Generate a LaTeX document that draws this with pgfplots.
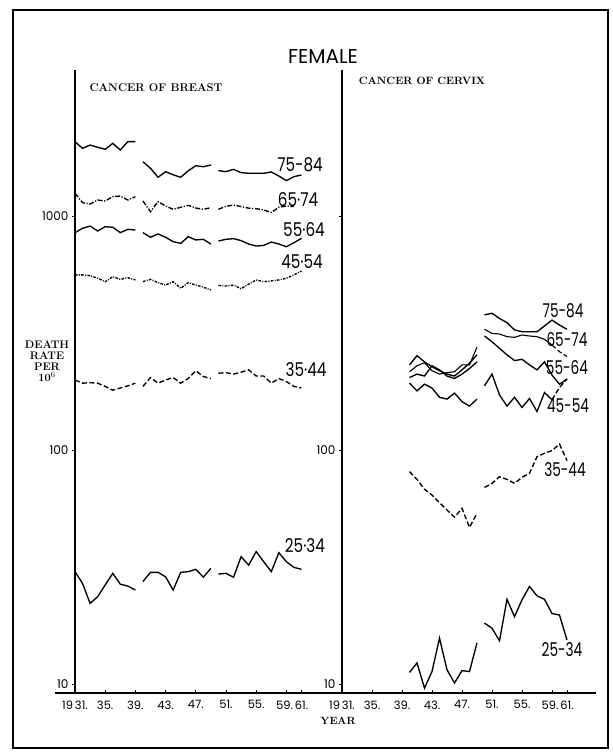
\documentclass[border=0pt]{standalone}
\usepackage{fontspec}
\usepackage{graphicx}
\usepackage{pgfplots}
\pgfplotsset{compat=1.18}
\newfontfamily\pop{Poppins}
\newcommand\agel[1]{\scalebox{0.8}[1]{\pop\fontsize{19}{19}\selectfont #1}}
\newcommand\ager[1]{\scalebox{0.72}[1]{\pop\fontsize{19}{19}\selectfont #1}}
\tikzset{
  sl/.style={solid},
  dd/.style={dash pattern=on 5pt off 1.6pt on 1.2pt off 1.6pt},
  dt/.style={dash pattern=on 2.6pt off 1.3pt on 1pt off 1.3pt},
  ds/.style={dash pattern=on 5pt off 2.5pt},
}
\pgfplotsset{
  myax/.style={
    scale only axis, anchor=south west,
    height=623pt, ymin=9.15, ymax=4207,
    xmin=1931,
    axis x line*=bottom, axis y line*=left,
    axis line style={-, line width=1.3pt},
    x axis line style={draw=none},
    xtick={1931,1935,1939,1943,1947,1951,1955,1959,1961},
    xticklabels={19\,31.,35.,39.,43.,47.,51.,55.,59.\hphantom{1},61.},
    ytick={10,100,1000},
    minor tick length=0pt,
    major tick length=3pt,
    xtick align=inside, ytick align=outside,
    tick style={black, line width=0.8pt},
    xticklabel style={font=\pop\fontsize{11.5}{11.5}\selectfont, yshift=-4pt, inner xsep=0pt},
    yticklabel style={font=\pop\fontsize{12}{12}\selectfont},
    /pgf/number format/assume math mode=true,
    every axis plot/.append style={black, line width=1.35pt, mark=none},
    clip=false,
  },
}
\begin{document}
\begin{tikzpicture}
\useasboundingbox (0pt,0pt) rectangle (613pt,753pt);
\draw[line width=1.4pt] (13pt,5pt) rectangle (608pt,743pt);
\node[font=\pop\fontsize{20}{20}\selectfont] at (323pt,696pt) {FEMALE};
\node[font=\fontsize{11.2}{12}\selectfont\bfseries] at (156pt,665pt) {CANCER OF BREAST};
\node[font=\fontsize{10.6}{12}\selectfont\bfseries] at (422pt,672pt) {CANCER OF CERVIX};
\node[font=\fontsize{11}{11}\selectfont\bfseries, align=center] at (47pt,392pt) {DEATH\\RATE\\PER\\10$^{6}$};
\node[font=\fontsize{10.5}{10.5}\selectfont\bfseries] at (338pt,32pt) {YEAR};

% ---------------- BREAST ----------------
\begin{axis}[ymode=log, myax, at={(75pt,60pt)}, width=264.25pt, xmax=1966, yticklabels={10,100,1000}]
% 75-84
\addplot[sl] coordinates {(1931,2078) (1932,1946) (1933,2010) (1934,1966) (1935,1928) (1936,2044) (1937,1915) (1938,2078) (1939,2078)};
\addplot[sl] coordinates {(1940,1706) (1941,1599) (1942,1464) (1943,1546) (1944,1500) (1945,1464) (1946,1560) (1947,1640) (1948,1624) (1949,1652)};
\addplot[sl] coordinates {(1950,1562) (1951,1547) (1952,1582) (1953,1532) (1954,1522) (1955,1522) (1956,1522) (1957,1542) (1958,1482) (1959,1416) (1960,1473) (1961,1497)};
% 65-74
\addplot[dd] coordinates {(1931,1250) (1932,1140) (1933,1125) (1934,1170) (1935,1159) (1936,1209) (1937,1217) (1938,1170) (1939,1209)};
\addplot[dd] coordinates {(1940,1159) (1941,1043) (1942,1152) (1943,1103) (1944,1068) (1945,1089) (1946,1111) (1947,1082) (1948,1068) (1949,1085)};
\addplot[dd] coordinates {(1950,1068) (1951,1100) (1952,1114) (1953,1097) (1954,1080) (1955,1075) (1956,1061) (1957,1035) (1958,1090) (1959,1103) (1960,1097)};
% 55-64
\addplot[sl] coordinates {(1931,849) (1932,886) (1933,906) (1934,863) (1935,900) (1936,895) (1937,849) (1938,877) (1939,871)};
\addplot[sl] coordinates {(1940,849) (1941,811) (1942,838) (1943,811) (1944,777) (1945,764) (1946,816) (1947,790) (1948,795) (1949,759)};
\addplot[sl] coordinates {(1950,782) (1951,795) (1952,800) (1953,785) (1954,759) (1955,744) (1956,749) (1957,774) (1958,759) (1959,739) (1960,769) (1961,803)};
% 45-54
\addplot[dt] coordinates {(1931,560) (1932,560) (1933,556) (1934,542) (1935,524) (1936,550) (1937,536) (1938,545) (1939,533)};
\addplot[dt] coordinates {(1940,524) (1941,536) (1942,519) (1943,507) (1944,524) (1945,491) (1946,519) (1947,507) (1948,496) (1949,483)};
\addplot[dt] coordinates {(1950,505) (1951,502) (1952,507) (1953,489) (1954,511) (1955,533) (1956,524) (1957,528) (1958,533) (1959,542) (1960,560) (1961,582)};
% 35-44
\addplot[ds] coordinates {(1931,199) (1932,193) (1933,194) (1934,193) (1935,187) (1936,180) (1937,184) (1938,188) (1939,193)};
\addplot[ds] coordinates {(1940,187) (1941,204) (1942,193) (1943,199) (1944,204) (1945,193) (1946,202) (1947,218) (1948,206) (1949,202)};
\addplot[ds] coordinates {(1950,213) (1951,214) (1952,211) (1953,215) (1954,220) (1955,207) (1956,207) (1957,193) (1958,202) (1959,196) (1960,187) (1961,184)};
% 25-34
\addplot[sl] coordinates {(1931,30.2) (1932,26.9) (1933,22.1) (1934,23.6) (1935,26.5) (1936,29.7) (1937,26.7) (1938,26.2) (1939,25.2)};
\addplot[sl] coordinates {(1940,27.4) (1941,30.0) (1942,30.0) (1943,28.7) (1944,25.2) (1945,30.0) (1946,30.2) (1947,30.9) (1948,28.6) (1949,31.2)};
\addplot[sl] coordinates {(1950,29.5) (1951,29.7) (1952,28.6) (1953,35.0) (1954,32.2) (1955,36.8) (1956,33.3) (1957,30.2) (1958,36.4) (1959,33.3) (1960,31.5) (1961,30.9)};
\end{axis}

% ---------------- CERVIX ----------------
\begin{axis}[ymode=log, myax, at={(342pt,60pt)}, width=255pt, xmax=1965, yticklabels={10,100,{}}]
% 75-84
\addplot[sl] coordinates {(1940,231) (1941,253) (1942,238) (1943,227) (1944,218) (1945,211) (1946,207) (1947,220) (1948,235) (1949,255)};
\addplot[sl] coordinates {(1950,378) (1951,384) (1952,365) (1953,350) (1954,326) (1955,320) (1956,320) (1957,320) (1958,339) (1959,359) (1960,342) (1961,328)};
% 65-74
\addplot[sl, line width=1.1pt] coordinates {(1940,216) (1941,229) (1942,236) (1943,218) (1944,211) (1945,214) (1946,216) (1947,231) (1948,231) (1949,275)};
\addplot[sl, line width=1.1pt] coordinates {(1950,328) (1951,315) (1952,313) (1953,305) (1954,303) (1955,310) (1956,307) (1957,305) (1958,297) (1959,281)};
\addplot[ds, line width=1.1pt] coordinates {(1959,281) (1960,263) (1961,251)};
% 55-64
\addplot[sl] coordinates {(1940,204) (1941,211) (1942,207) (1943,229) (1944,220) (1945,207) (1946,202) (1947,211) (1948,223) (1949,238)};
\addplot[sl] coordinates {(1950,307) (1951,290) (1952,272) (1953,255) (1954,241) (1955,244) (1956,231) (1957,220) (1958,238) (1959,209) (1960,191) (1961,201)};
% 45-54
\addplot[sl] coordinates {(1940,193) (1941,179) (1942,191) (1943,184) (1944,168) (1945,165) (1946,175) (1947,161) (1948,154) (1949,165)};
\addplot[sl] coordinates {(1950,188) (1951,211) (1952,172) (1953,154) (1954,168) (1955,152) (1956,166) (1957,146) (1958,176) (1959,164)};
\addplot[ds] coordinates {(1959,164) (1960,185) (1961,201)};
% 35-44
\addplot[ds] coordinates {(1940,80.8) (1941,74.9) (1942,67.9) (1943,64.2) (1944,59.5) (1945,55.4) (1946,51.6) (1947,56.3) (1948,46.7) (1949,53.6)};
\addplot[ds] coordinates {(1950,69.2) (1951,72.0) (1952,76.9) (1953,74.9) (1954,72.0) (1955,76.4) (1956,79.5) (1957,93.6) (1958,96.8) (1959,99.4) (1960,106) (1961,90.0)};
% 25-34
\addplot[sl] coordinates {(1940,11.2) (1941,12.3) (1942,9.6) (1943,11.3) (1944,15.7) (1945,11.5) (1946,10.1) (1947,11.4) (1948,11.3) (1949,15.0)};
\addplot[sl] coordinates {(1950,18.2) (1951,17.3) (1952,15.3) (1953,23.0) (1954,19.4) (1955,22.9) (1956,26.1) (1957,23.8) (1958,23.0) (1959,20.0) (1960,19.7) (1961,15.4)};
\end{axis}

\draw[line width=1.3pt] (55pt,60pt) -- (596pt,60pt);

% labels breast
\node at (300pt,588pt) {\agel{75-84}};
\node at (298pt,553pt) {\agel{65·74}};
\node at (304pt,523pt) {\agel{55·64}};
\node at (302pt,491pt) {\agel{45·54}};
\node at (306pt,383pt) {\agel{35·44}};
\node at (305pt,207pt) {\agel{25·34}};
% labels cervix
\node at (563pt,442pt) {\ager{75-84}};
\node at (567pt,413pt) {\ager{65-74}};
\node at (567pt,385pt) {\ager{55-64}};
\node at (568pt,347pt) {\ager{45-54}};
\node at (565pt,283pt) {\ager{35-44}};
\node at (562pt,103pt) {\ager{25-34}};
\end{tikzpicture}
\end{document}
